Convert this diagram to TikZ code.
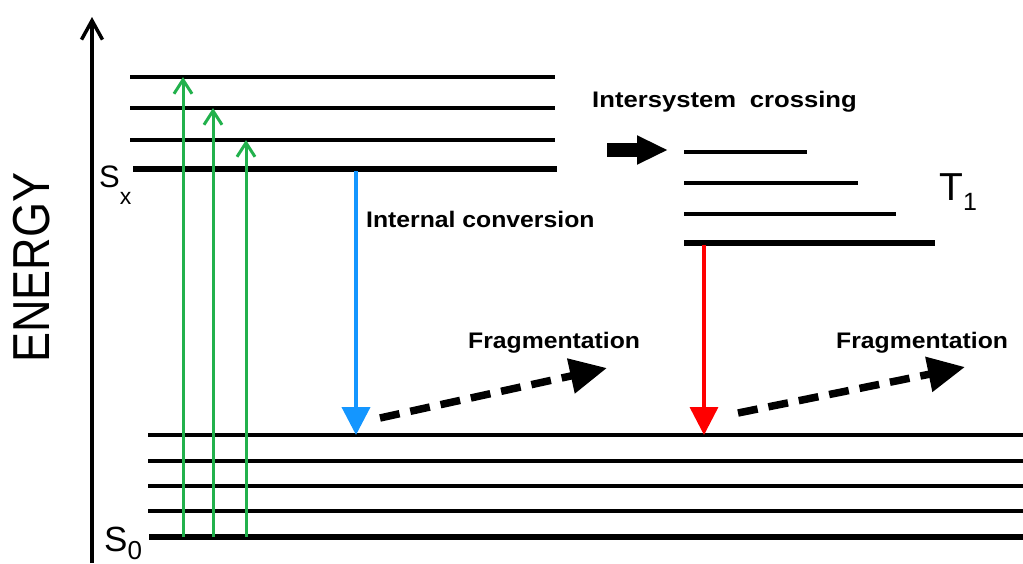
\documentclass[tikz,border=0pt]{standalone}
\usepackage{fontspec}
\setmainfont{Liberation Sans}
\usetikzlibrary{arrows.meta}
\definecolor{exgreen}{RGB}{34,177,76}
\definecolor{icblue}{RGB}{20,150,255}
\definecolor{phred}{RGB}{255,0,0}
\newcommand{\wtxt}[1]{\scalebox{1.1}[1]{#1}}
\begin{document}
\begin{tikzpicture}[x=1pt,y=-1pt,
  thinlevel/.style={line width=3.1pt, black},
  thicklevel/.style={line width=5.5pt, black},
  excite/.style={exgreen, line width=3pt, -{Straight Barb[length=14pt,width=18pt]}},
  decay/.style={line width=4pt, -{Triangle[length=28pt,width=28pt]}},
  fragarrow/.style={line width=7.5pt, dash pattern=on 20pt off 11pt, -{Triangle[length=37pt,width=34pt]}},
  lbl/.style={inner sep=0pt, anchor=base west, font=\fontsize{22.5}{24}\selectfont\bfseries},
  statelbl/.style={inner sep=0pt, anchor=base west}
]
\useasboundingbox (0,0) rectangle (1023,563);

% energy axis
\coordinate (axb) at (92,563);
\coordinate (axt) at (92,17);
\draw[line width=3.5pt, -{Straight Barb[length=19pt,width=21pt]}] (axb) -- (axt);
\node[rotate=90, inner sep=0pt] (energy) at (31.5,267.5) {\fontsize{50}{50}\selectfont\scalebox{0.9}[1.04]{ENERGY}};

% Sx levels
\coordinate (sx1l) at (130,77);  \coordinate (sx1r) at (555,77);
\coordinate (sx2l) at (130,108); \coordinate (sx2r) at (555,108);
\coordinate (sx3l) at (130,140); \coordinate (sx3r) at (555,140);
\coordinate (sx4l) at (133,169); \coordinate (sx4r) at (557,169);
\draw[thinlevel] (sx1l) -- (sx1r);
\draw[thinlevel] (sx2l) -- (sx2r);
\draw[thinlevel] (sx3l) -- (sx3r);
\draw[thicklevel] (sx4l) -- (sx4r);
\node[statelbl] (sxlabel) at (99,187) {\fontsize{31}{31}\selectfont S\raisebox{-17pt}{\fontsize{23}{23}\selectfont x}};

% T1 levels
\coordinate (t1l) at (684,152); \coordinate (t1r) at (807,152);
\coordinate (t2l) at (684,183); \coordinate (t2r) at (858,183);
\coordinate (t3l) at (684,214); \coordinate (t3r) at (896,214);
\coordinate (t4l) at (684,243); \coordinate (t4r) at (935,243);
\draw[thinlevel] (t1l) -- (t1r);
\draw[thinlevel] (t2l) -- (t2r);
\draw[thinlevel] (t3l) -- (t3r);
\draw[thicklevel] (t4l) -- (t4r);
\node[statelbl] (t1label) at (939,200) {\fontsize{39}{39}\selectfont T\raisebox{-10pt}{\fontsize{25}{25}\selectfont 1}};

% S0 levels
\coordinate (g1l) at (148,435); \coordinate (g1r) at (1023,435);
\coordinate (g2l) at (148,461); \coordinate (g2r) at (1023,461);
\coordinate (g3l) at (148,486); \coordinate (g3r) at (1023,486);
\coordinate (g4l) at (148,511); \coordinate (g4r) at (1023,511);
\coordinate (g5l) at (149,537); \coordinate (g5r) at (1023,537);
\draw[thinlevel] (g1l) -- (g1r);
\draw[thinlevel] (g2l) -- (g2r);
\draw[thinlevel] (g3l) -- (g3r);
\draw[thinlevel] (g4l) -- (g4r);
\draw[thicklevel] (g5l) -- (g5r);
\node[statelbl] (s0label) at (104,551) {\fontsize{35}{35}\selectfont S\raisebox{-8pt}{\fontsize{26}{26}\selectfont 0}};

% excitation arrows
\coordinate (e1a) at (183,537); \coordinate (e1b) at (183,77);
\coordinate (e2a) at (213,537); \coordinate (e2b) at (213,108);
\coordinate (e3a) at (246,537); \coordinate (e3b) at (246,140);
\draw[excite] (e1a) -- (e1b);
\draw[excite] (e2a) -- (e2b);
\draw[excite] (e3a) -- (e3b);

% internal conversion
\coordinate (ica) at (356,171); \coordinate (icb) at (356,435);
\draw[decay, icblue] (ica) -- (icb);
\node[lbl] (iclabel) at (366,227) {\wtxt{Internal conversion}};

% decay from T1
\coordinate (pha) at (704,245); \coordinate (phb) at (704,435);
\draw[decay, phred, line width=3.5pt] (pha) -- (phb);

% intersystem crossing
\coordinate (isca) at (607,150); \coordinate (iscb) at (668,150);
\draw[line width=14pt, -{Triangle[length=31pt,width=27pt]}] (isca) -- (iscb);
\node[lbl] (isclabel) at (592,107) {\scalebox{1.14}[1]{Intersystem\hspace{12pt}crossing}};

% fragmentation
\coordinate (f1a) at (380,418); \coordinate (f1b) at (607,368);
\draw[fragarrow] (f1a) -- (f1b);
\node[lbl] (f1label) at (468,348) {\wtxt{Fragmentation}};
\coordinate (f2a) at (738,413); \coordinate (f2b) at (965,367);
\draw[fragarrow] (f2a) -- (f2b);
\node[lbl] (f2label) at (836,348) {\wtxt{Fragmentation}};
\end{tikzpicture}
\end{document}
